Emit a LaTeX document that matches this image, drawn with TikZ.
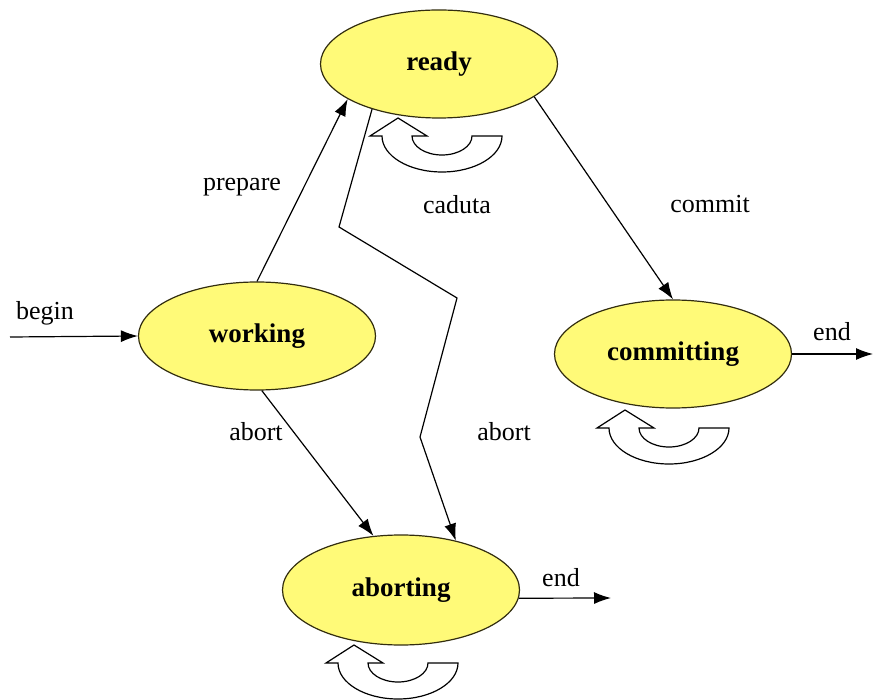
\documentclass[tikz,border=0pt]{standalone}
\usepackage{fontspec}
\setmainfont{Liberation Serif}
\usetikzlibrary{shapes.geometric,arrows.meta}

\definecolor{statefill}{RGB}{255,250,120}
\definecolor{stateline}{RGB}{50,45,15}

\tikzset{
  x=1pt, y=1pt,
  state/.style={ellipse, draw=stateline, line width=1.2pt, fill=statefill,
    inner sep=0pt, minimum width=237pt, minimum height=108pt,
    font=\fontsize{27}{30}\selectfont\bfseries},
  lbl/.style={font=\fontsize{26}{29}\selectfont, inner sep=0pt},
  conn/.style={draw=black, line width=1.2pt, -{Latex[length=17pt,width=12pt]}},
  % U-turn self-loop arrow, origin at the top centre of its ring
  uturn/.pic={
    \draw[line width=1.2pt, fill=white, line join=miter]
      (60,0) -- (30,0)
      arc[start angle=0, end angle=-180, x radius=30, y radius=19]
      -- (-15,0) -- (-44,18) -- (-72,0) -- (-60,0)
      arc[start angle=180, end angle=360, x radius=60, y radius=36]
      -- cycle;
  }
}

\begin{document}
\begin{tikzpicture}
\useasboundingbox (0,0) rectangle (874,699);

% states
\node[state] (ready)      at (439,635) {ready};
\node[state] (working)    at (257,363) {working};
\node[state] (committing) at (673,345) {committing};
\node[state, minimum height=110pt] (aborting) at (401,109) {aborting};

% free ends and bends
\coordinate (in)    at (10,362);
\coordinate (cout)  at (873,345);
\coordinate (aout)  at (611,101);
\coordinate (k1)    at (339,472);
\coordinate (k2)    at (457,401);
\coordinate (k3)    at (420,262);

% transitions
\draw[conn] (in) -- (working.west);
\draw[conn] (working.north) -- (ready.201);
\draw[conn] (working.-85) -- (aborting.117);
\draw[conn] (ready.214) -- (k1) -- (k2) -- (k3) -- (aborting.42);
\draw[conn] (ready.-19) -- (committing.north);
\draw[conn] (committing.east) -- (cout);
\draw[conn] (aborting.-4) -- (aout);

% self loops
\pic at (442,563) {uturn};
\pic at (669,271) {uturn};
\pic at (398,36)  {uturn};

% labels
\node[lbl] (lbegin)   at (45,386)  {begin};
\node[lbl] (lprepare) at (242,512) {prepare};
\node[lbl] (lcaduta)  at (457,494) {caduta};
\node[lbl] (lcommit)  at (710,495) {commit};
\node[lbl] (labort1)  at (256,267) {abort};
\node[lbl] (labort2)  at (504,267) {abort};
\node[lbl] (lend1)    at (832,367) {end};
\node[lbl] (lend2)    at (561,121) {end};
\end{tikzpicture}
\end{document}
